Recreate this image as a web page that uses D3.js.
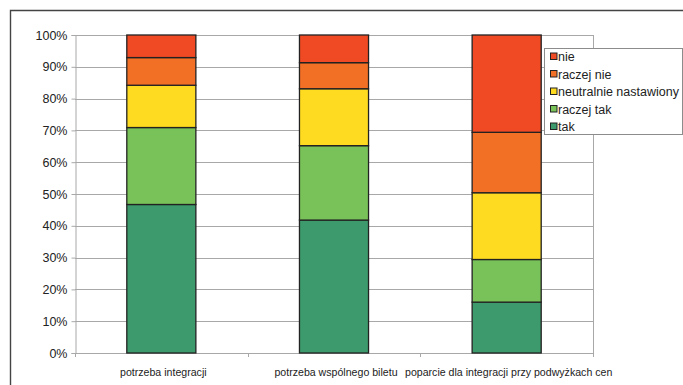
<!DOCTYPE html>
<html>
<head>
<meta charset="utf-8">
<script src="https://cdn.jsdelivr.net/npm/d3@7"></script>
<style>
  html, body { margin: 0; padding: 0; background: #fff; }
  svg { display: block; font-family: "Liberation Sans", Arial, sans-serif; }
</style>
</head>
<body>
<svg id="chart" width="683" height="385"></svg>
<script>
// Survey answers (share of respondents, %) per question
const categories = ["potrzeba integracji", "potrzeba wspólnego biletu", "poparcie dla integracji przy podwyżkach cen"];
const seriesNames = ["tak", "raczej tak", "neutralnie nastawiony", "raczej nie", "nie"];
const tak = [46.7, 41.8, 16.0];
const raczejTak = [24.2, 23.4, 13.4];
const neutralnie = [13.3, 17.9, 21.0];
const raczejNie = [8.7, 8.2, 19.0];
const nie = [7.1, 8.7, 30.6];
const yTicks = [0, 10, 20, 30, 40, 50, 60, 70, 80, 90, 100];
const seriesColors = ["#3d9a6c", "#78c259", "#fedb20", "#f26f26", "#ef4a23"];

const seriesValues = [tak, raczejTak, neutralnie, raczejNie, nie];
const rows = categories.map((c, i) => {
  const r = { category: c };
  seriesNames.forEach((s, k) => { r[s] = seriesValues[k][i]; });
  return r;
});

const svg = d3.select("#chart");
const plot = { left: 75, top: 35, right: 593, bottom: 353 };

// outer frame (left and top edges visible, continues past the page edge)
svg.append("path")
  .attr("d", "M10.5,390 V10.5 H690")
  .attr("fill", "none")
  .attr("stroke", "#444")
  .attr("stroke-width", 1.4);

const x = d3.scaleBand()
  .domain(categories)
  .range([plot.left, plot.right])
  .paddingInner(0.6)
  .paddingOuter(0.3);

const y = d3.scaleLinear()
  .domain([0, 100])
  .range([plot.bottom, plot.top]);

// horizontal gridlines
svg.append("g")
  .selectAll("line")
  .data(yTicks)
  .join("line")
  .attr("x1", plot.left)
  .attr("x2", plot.right)
  .attr("y1", d => Math.round(y(d)) + 0.5)
  .attr("y2", d => Math.round(y(d)) + 0.5)
  .attr("stroke", "#a8a8a8")
  .attr("stroke-width", 1);

// right edge of plot area
svg.append("line")
  .attr("x1", plot.right + 0.5).attr("x2", plot.right + 0.5)
  .attr("y1", plot.top).attr("y2", plot.bottom)
  .attr("stroke", "#a8a8a8");

// y axis
const yAxis = d3.axisLeft(y)
  .tickValues(yTicks)
  .tickFormat(d => d + "%")
  .tickSize(4)
  .tickPadding(4);
const gy = svg.append("g")
  .attr("transform", `translate(${plot.left + 0.5},0)`)
  .call(yAxis);
gy.select(".domain").attr("stroke", "#a8a8a8");
gy.selectAll(".tick line").attr("stroke", "#a8a8a8");
gy.selectAll(".tick text")
  .attr("fill", "#222")
  .style("font-size", "12.5px");

// x axis with ticks on category boundaries
const boundaries = [plot.left, ...categories.map(c => x(c) + x.bandwidth() / 2 + x.step() / 2)];
const gx = svg.append("g");
gx.append("line")
  .attr("x1", plot.left).attr("x2", plot.right + 0.5)
  .attr("y1", plot.bottom + 0.5).attr("y2", plot.bottom + 0.5)
  .attr("stroke", "#a8a8a8");
gx.selectAll("line.tk")
  .data(boundaries)
  .join("line")
  .attr("class", "tk")
  .attr("x1", d => Math.round(d) + 0.5)
  .attr("x2", d => Math.round(d) + 0.5)
  .attr("y1", plot.bottom)
  .attr("y2", plot.bottom + 4)
  .attr("stroke", "#a8a8a8");
gx.selectAll("text")
  .data(categories)
  .join("text")
  .attr("x", d => x(d) + x.bandwidth() / 2 + 2)
  .attr("y", 375.5)
  .attr("text-anchor", "middle")
  .attr("fill", "#222")
  .style("font-size", "10.6px")
  .text(d => d);

// stacked bars
const stack = d3.stack().keys(seriesNames);
const layers = stack(rows);
const color = d3.scaleOrdinal().domain(seriesNames).range(seriesColors);

svg.append("g")
  .selectAll("g")
  .data(layers)
  .join("g")
  .attr("fill", d => color(d.key))
  .selectAll("rect")
  .data(d => d)
  .join("rect")
  .attr("x", d => x(d.data.category))
  .attr("width", x.bandwidth())
  .attr("y", d => y(d[1]))
  .attr("height", d => y(d[0]) - y(d[1]))
  .attr("stroke", "#222")
  .attr("stroke-width", 1.3);

// legend
const legend = svg.append("g").attr("transform", "translate(544.5,48.5)");
legend.append("rect")
  .attr("width", 138)
  .attr("height", 86)
  .attr("fill", "#fff")
  .attr("stroke", "#8c8c8c")
  .attr("stroke-width", 1);
const legendOrder = seriesNames.slice().reverse();
const item = legend.selectAll("g.item")
  .data(legendOrder)
  .join("g")
  .attr("class", "item")
  .attr("transform", (d, i) => `translate(6,${8 + i * 17.5})`);
item.append("rect")
  .attr("x", 0)
  .attr("y", -3.5)
  .attr("width", 6.5)
  .attr("height", 6.5)
  .attr("fill", d => color(d))
  .attr("stroke", "#222")
  .attr("stroke-width", 1);
item.append("text")
  .attr("x", 7.5)
  .attr("y", 4.5)
  .attr("fill", "#222")
  .style("font-size", "12.5px")
  .text(d => d);
</script>
</body>
</html>
